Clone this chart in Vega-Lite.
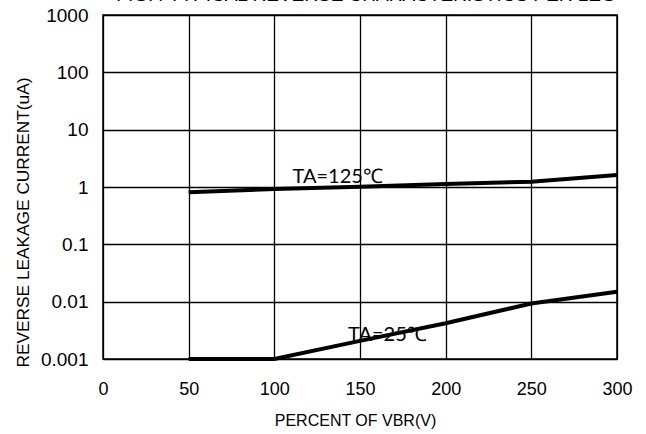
{
  "$schema": "https://vega.github.io/schema/vega-lite/v6.json",
  "autosize": {"type": "none"},
  "width": 514,
  "height": 344,
  "padding": {"left": 103, "top": 15, "right": 29, "bottom": 75},
  "background": "white",
  "title": {
    "text": "FIG.4 TYPICAL REVERSE CHARACTERISTICS PER LEG",
    "frame": "group",
    "anchor": "middle",
    "orient": "top",
    "baseline": "bottom",
    "offset": 0,
    "dx": 6,
    "dy": 18,
    "font": "Liberation Sans",
    "fontSize": 19,
    "fontWeight": "normal",
    "color": "black"
  },
  "config": {
    "view": {"stroke": "black", "strokeWidth": 1.5},
    "axis": {
      "labelFont": "Liberation Sans",
      "titleFont": "Liberation Sans",
      "labelColor": "black",
      "titleColor": "black",
      "titleFontWeight": "normal",
      "grid": true,
      "gridColor": "black",
      "gridWidth": 1.3,
      "gridOpacity": 1,
      "domain": false,
      "ticks": false,
      "labelFlush": false
    }
  },
  "datasets": {
    "curves": [
      {"series": "125", "v": 50, "i": 0.81},
      {"series": "125", "v": 100, "i": 0.92},
      {"series": "125", "v": 150, "i": 1.01},
      {"series": "125", "v": 200, "i": 1.13},
      {"series": "125", "v": 250, "i": 1.24},
      {"series": "125", "v": 300, "i": 1.62},
      {"series": "25", "v": 50, "i": 0.001},
      {"series": "25", "v": 100, "i": 0.001},
      {"series": "25", "v": 150, "i": 0.00207},
      {"series": "25", "v": 200, "i": 0.0042},
      {"series": "25", "v": 250, "i": 0.0093},
      {"series": "25", "v": 300, "i": 0.0149}
    ],
    "labels": [
      {"label": "TA=125℃", "v": 137, "i": 1.49},
      {"label": "TA=25℃", "v": 166, "i": 0.00262}
    ]
  },
  "layer": [
    {
      "data": {"name": "curves"},
      "mark": {"type": "line", "color": "black", "strokeWidth": 4},
      "encoding": {
        "x": {
          "field": "v", "type": "quantitative",
          "scale": {"domain": [0, 300], "nice": false, "zero": false},
          "axis": {
            "values": [0, 50, 100, 150, 200, 250, 300],
            "labelFontSize": 18,
            "labelPadding": 21,
            "labelOverlap": false,
            "title": "PERCENT OF VBR(V)",
            "titleFontSize": 16,
            "titleY": 61,
            "titleBaseline": "middle",
            "titleX": 252
          }
        },
        "y": {
          "field": "i", "type": "quantitative",
          "scale": {"type": "log", "domain": [0.001, 1000], "nice": false},
          "axis": {
            "values": [0.001, 0.01, 0.1, 1, 10, 100, 1000],
            "format": "~g",
            "labelFontSize": 19,
            "labelPadding": 15,
            "labelOverlap": false,
            "title": "REVERSE LEAKAGE CURRENT(uA)",
            "titleFontSize": 17.3,
            "titleX": -80,
            "titleY": 207,
            "titleAlign": "center",
            "titleBaseline": "middle",
            "titleAngle": 270
          }
        },
        "detail": {"field": "series"}
      }
    },
    {
      "data": {"name": "labels"},
      "mark": {"type": "text", "font": "Lato", "fontSize": 20, "color": "black", "baseline": "middle", "align": "center"},
      "encoding": {
        "x": {"field": "v", "type": "quantitative"},
        "y": {"field": "i", "type": "quantitative"},
        "text": {"field": "label"}
      }
    }
  ]
}
